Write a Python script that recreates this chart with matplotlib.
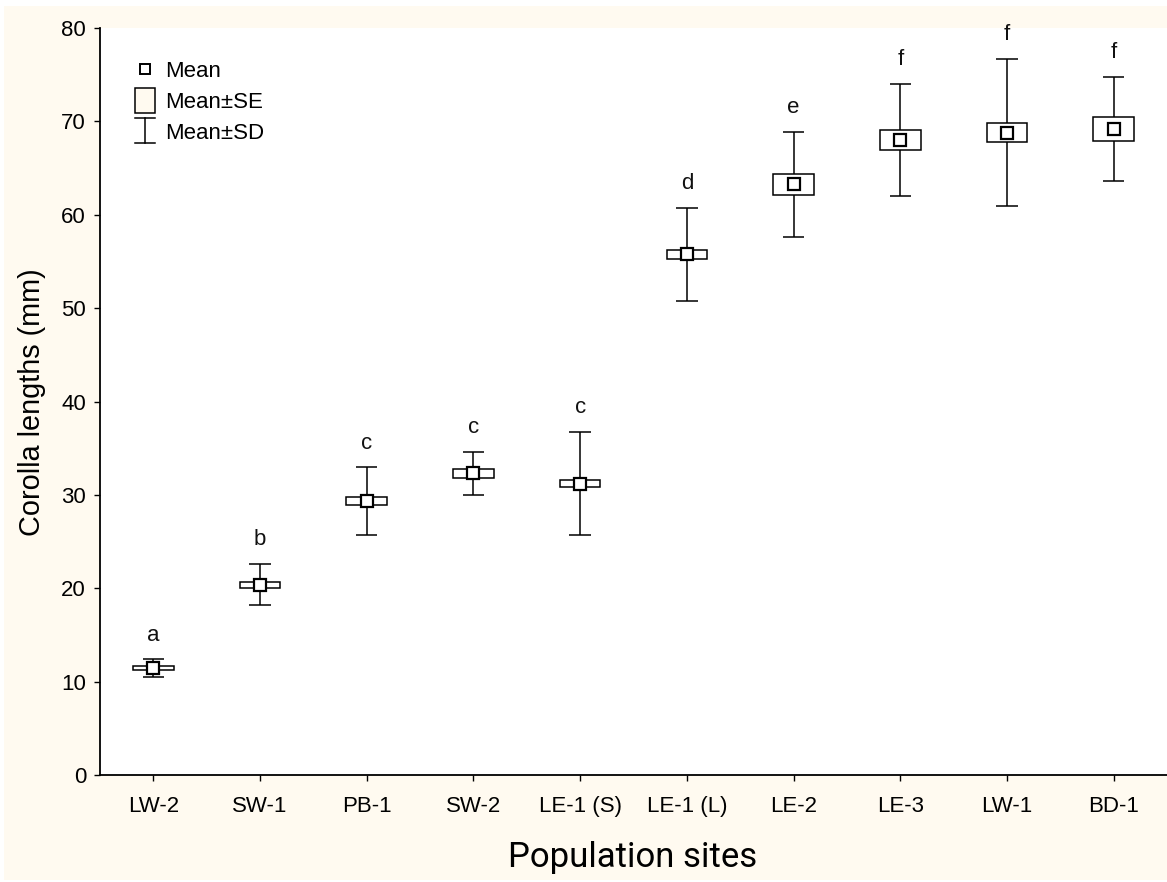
import matplotlib
matplotlib.use("Agg")
import matplotlib.pyplot as plt
from matplotlib.patches import Rectangle
from matplotlib.lines import Line2D
from matplotlib.legend_handler import HandlerBase
import numpy as np

sites = ["LW-2", "SW-1", "PB-1", "SW-2", "LE-1 (S)", "LE-1 (L)", "LE-2", "LE-3", "LW-1", "BD-1"]
means = [11.45, 20.4, 29.35, 32.3, 31.2, 55.75, 63.25, 68.0, 68.8, 69.2]
se = [0.25, 0.32, 0.45, 0.45, 0.4, 0.5, 1.15, 1.1, 1.0, 1.25]
sd = [0.95, 2.2, 3.6, 2.3, 5.55, 5.0, 5.65, 6.0, 7.9, 5.6]
letters = ["a", "b", "c", "c", "c", "d", "e", "f", "f", "f"]

CREAM = "#FFFAF0"
TICKFONT = "Liberation Sans"
FS = 16

fig = plt.figure(figsize=(11.67, 8.82), dpi=100, facecolor="white")
fig.patches.append(Rectangle((4 / 1167, 2 / 882), 1 - 4 / 1167, 1 - 8 / 882,
                             transform=fig.transFigure, facecolor=CREAM,
                             edgecolor="none", zorder=-10))
ax = fig.add_axes([100 / 1167, 1 - 775 / 882, 1067 / 1167, 747 / 882])
ax.set_facecolor("white")

x = np.arange(len(sites))
m = np.array(means)
s_e = np.array(se)
s_d = np.array(sd)

lw = 1.1
cap_half = 0.1
box_half = 0.19

ax.vlines(x, m - s_d, m + s_d, colors="black", lw=lw, zorder=2)
ax.hlines(m + s_d, x - cap_half, x + cap_half, colors="black", lw=lw, zorder=2)
ax.hlines(m - s_d, x - cap_half, x + cap_half, colors="black", lw=lw, zorder=2)
for xi, mi, ei in zip(x, m, s_e):
    ax.add_patch(Rectangle((xi - box_half, mi - ei), 2 * box_half, 2 * ei,
                           facecolor="white", edgecolor="black", lw=lw, zorder=3))
ax.plot(x, m, linestyle="none", marker="s", markersize=8.2, markerfacecolor="white",
        markeredgecolor="black", markeredgewidth=1.6, zorder=4)

for xi, hi, lab in zip(x, m + s_d, letters):
    ax.text(xi, hi + 2.0, lab, ha="center", va="baseline", fontsize=FS,
            family=TICKFONT, color="#111111")

ax.set_xlim(-0.5, 9.5)
ax.set_ylim(0, 80)
ax.set_xticks(x)
ax.set_xticklabels(sites)
ax.set_yticks(np.arange(0, 81, 10))
for sp in ["top", "right"]:
    ax.spines[sp].set_visible(False)
for sp in ["left", "bottom"]:
    ax.spines[sp].set_linewidth(1.3)
ax.tick_params(axis="both", direction="out", length=4, width=1.0, labelsize=FS, colors="black")
ax.tick_params(axis="x", pad=11)
ax.tick_params(axis="y", pad=6)
for t in ax.get_xticklabels() + ax.get_yticklabels():
    t.set_family(TICKFONT)

fig.text(32 / 1167, 1 - 402 / 882, "Corolla lengths (mm)", rotation=90, ha="center",
         va="center", fontsize=20.8, family="Liberation Sans")
fig.text(633 / 1167, 1 - 858 / 882, "Population sites", ha="center", va="center",
         fontsize=25, family="Roboto")

HW, HH = 14.4, 18.0  # handle size in points


class MeanHandler(HandlerBase):
    def create_artists(self, legend, orig, xd, yd, width, height, fontsize, trans):
        l = Line2D([xd + width / 2], [yd + height / 2], marker="s", markersize=7,
                   markerfacecolor="white", markeredgecolor="black",
                   markeredgewidth=1.4, linestyle="none", transform=trans)
        return [l]


class SEHandler(HandlerBase):
    def create_artists(self, legend, orig, xd, yd, width, height, fontsize, trans):
        cy = yd + height / 2
        r = Rectangle((xd, cy - HH / 2), width, HH, facecolor=CREAM, edgecolor="black",
                      lw=1.1, transform=trans)
        return [r]


class SDHandler(HandlerBase):
    def create_artists(self, legend, orig, xd, yd, width, height, fontsize, trans):
        cx = xd + width / 2
        cy = yd + height / 2
        y0, y1 = cy - HH / 2, cy + HH / 2
        v = Line2D([cx, cx], [y0, y1], color="black", lw=1.1, transform=trans)
        t = Line2D([xd, xd + width], [y1, y1], color="black", lw=1.1, transform=trans)
        b = Line2D([xd, xd + width], [y0, y0], color="black", lw=1.1, transform=trans)
        return [v, t, b]


class Dummy:
    pass


h_mean, h_se, h_sd = Dummy(), Dummy(), Dummy()
leg = ax.legend([h_mean, h_se, h_sd], ["Mean", "Mean\u00b1SE", "Mean\u00b1SD"],
                handler_map={h_mean: MeanHandler(), h_se: SEHandler(), h_sd: SDHandler()},
                loc="upper left", bbox_to_anchor=(35 / 1067, 1 - 33 / 747),
                frameon=False, borderpad=0, borderaxespad=0,
                handlelength=HW / FS, handleheight=0.7, labelspacing=0.44,
                handletextpad=0.45, prop={"family": TICKFONT, "size": FS})

fig.savefig("out.png", dpi=100, facecolor=fig.get_facecolor())
